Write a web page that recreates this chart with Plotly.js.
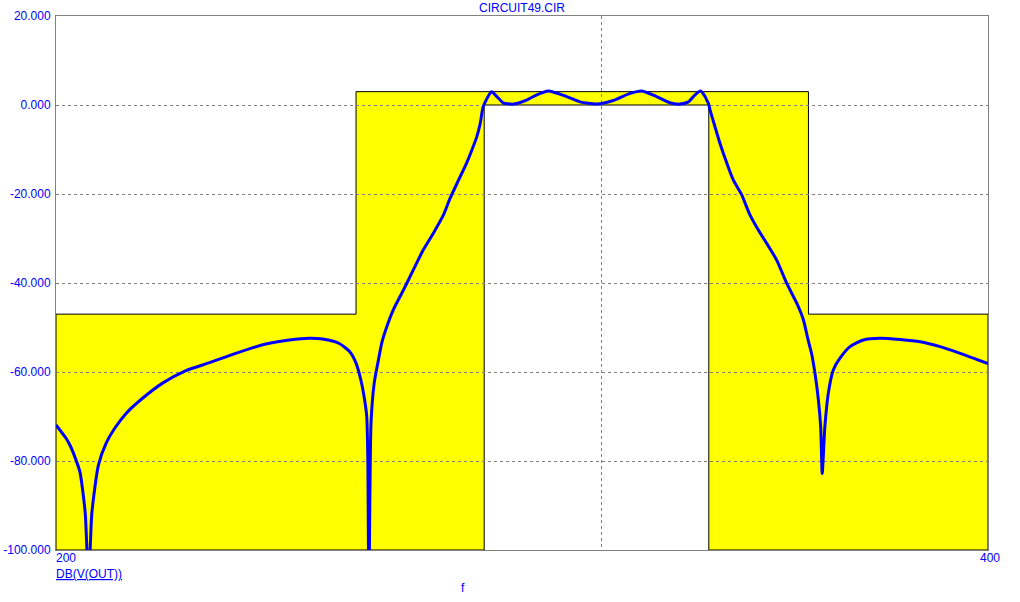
<!DOCTYPE html>
<html>
<head>
<meta charset="utf-8">
<script src="https://cdn.plot.ly/plotly-3.0.1.min.js"></script>
<style>html,body{margin:0;padding:0;background:#fff}#chart{width:1020px;height:602px}</style>
</head>
<body>
<div id="chart"></div>
<script>
// Frequency (Hz, log axis) and response DB(V(OUT))
const freq = [
  200, 201.5, 202.2, 203.0, 203.6, 204.4, 204.9, 205.4, 206.4, 207.6, 208.9, 210.7, 213.3, 216.5, 220.3, 224.2, 228.6, 233.8, 237.9, 241.5, 243.9, 246.9, 248.8, 250.0, 250.9, 251.5, 252.0, 252.2, 252.4, 252.8, 253.4,
  254.2, 254.8, 255.8, 257.0, 258.3, 259.6, 261.2, 262.8, 264.8, 266.8, 268.1, 269.8, 271.4, 272.5, 273.5, 274.2, 274.8,
  276.5, 277.6, 278.9, 281.0, 283.8, 286.0, 288.4, 292.4, 295.3, 299.0, 302.7, 306.5, 309.2, 312.6, 315.7, 318.1, 320.1, 321.7, 323.0, 324.1, 324.5, 324.9,
  325.3, 326.5, 327.7, 329.4, 331.0, 333.0, 335.1, 337.2, 339.3, 341.8, 344.4, 347.0, 348.7, 349.8, 350.8, 351.7, 352.6, 353.2, 353.6, 354.3, 355.2, 356.5, 358.3, 361.0, 364.6, 369.1, 374.7, 380.3, 386.0, 391.8, 400];
const dbOut = [
  -71.9, -74.9, -76.8, -79.8, -82.5, -91.8, -108, -91.8, -81.0, -76.0, -72.7, -69.3, -65.9, -62.5, -59.7, -57.9, -55.8, -53.7, -52.8, -52.4, -52.6, -53.6, -55.4, -58.0, -61.8, -65.5, -70.0, -79.8, -110, -71.5, -62.5,
  -57.3, -53.6, -49.8, -46.1, -43.1, -40.1, -36.3, -32.6, -28.8, -24.7, -21.0, -16.9, -13.1, -10.1, -7.1, -4.1, -0.4,
  3.0, 1.9, 0.5, 0.2, 1.1, 2.3, 3.15, 1.9, 0.7, 0.2, 1.0, 2.6, 3.15, 1.9, 0.5, 0.2, 0.7, 2.3, 3.15, 1.9, 1.1, 0.4,
  -1.1, -4.9, -8.6, -13.1, -16.9, -20.1, -24.7, -28.1, -31.1, -34.8, -40.1, -44.6, -48.3, -52.4, -55.8, -60.3, -66.3, -72.3, -82.8, -72.3, -64.8, -59.6, -56.9, -54.3, -52.8, -52.4, -52.7, -53.2, -54.3, -55.8, -58.1];

// Specification mask (yellow region)
const maskEdges = [200, 250, 275, 325, 350, 400];
const maskStopLevel = -47;
const maskPassTop = 3;
const maskPassFloor = 0;
const maskBottom = -100;

// Axis ticks
const yTickVals = [20, 0, -20, -40, -60, -80, -100];
const yTickText = ['20.000', '0.000', '-20.000', '-40.000', '-60.000', '-80.000', '-100.000'];
const xGridVals = [300];
const xTickLabels = ['200', '400'];

const e = maskEdges;
const poly = [
  [e[0], maskBottom], [e[0], maskStopLevel], [e[1], maskStopLevel], [e[1], maskPassTop],
  [e[4], maskPassTop], [e[4], maskStopLevel], [e[5], maskStopLevel], [e[5], maskBottom],
  [e[3], maskBottom], [e[3], maskPassFloor], [e[2], maskPassFloor], [e[2], maskBottom]
];
const path = 'M ' + poly.map(p => p[0] + ',' + p[1]).join(' L ') + ' Z';

const blue = '#0000ff';
const fnt = {family: 'Liberation Sans, Arial, sans-serif', size: 12, color: blue};

const trace = {
  x: freq, y: dbOut, type: 'scatter', mode: 'lines',
  line: {color: blue, width: 3, shape: 'spline', smoothing: 0.6},
  hoverinfo: 'x+y'
};

const layout = {
  width: 1020, height: 602,
  margin: {l: 56, r: 32, t: 16, b: 52},
  paper_bgcolor: '#ffffff', plot_bgcolor: '#ffffff',
  showlegend: false,
  font: fnt,
  title: {text: 'CIRCUIT49.CIR', font: fnt, xref: 'paper', x: 0.5, xanchor: 'center', yref: 'container', y: 1 - 8 / 602, yanchor: 'middle'},
  xaxis: {
    type: 'log', range: [Math.log10(200), Math.log10(400)],
    tickvals: xGridVals, showticklabels: false, ticks: '',
    showgrid: true, gridcolor: '#808080', gridwidth: 1, griddash: '3px,3px',
    showline: true, linecolor: '#808080', linewidth: 1, mirror: true, zeroline: false
  },
  yaxis: {
    range: [-100, 20], tickvals: yTickVals, ticktext: yTickText, ticks: '',
    tickfont: fnt, ticklabelstandoff: 2,
    showgrid: true, gridcolor: '#808080', gridwidth: 1, griddash: '3px,3px',
    showline: true, linecolor: '#808080', linewidth: 1, mirror: true, zeroline: false
  },
  shapes: [{
    type: 'path', xref: 'x', yref: 'y', path: path, layer: 'below',
    fillcolor: '#ffff00', line: {color: '#000000', width: 1}
  }],
  annotations: [
    {text: xTickLabels[0], xref: 'paper', yref: 'paper', x: 0.0, y: -0.015, xanchor: 'left', yanchor: 'middle', xshift: -2, showarrow: false, font: fnt},
    {text: xTickLabels[1], xref: 'paper', yref: 'paper', x: 1.002, y: -0.015, xanchor: 'center', yanchor: 'middle', showarrow: false, font: fnt},
    {text: '<u>DB(V(OUT))</u>', xref: 'paper', yref: 'paper', x: 0.0, y: -0.045, xanchor: 'left', yanchor: 'middle', xshift: -2, showarrow: false, font: fnt},
    {text: 'f', xref: 'paper', yref: 'paper', x: 0.4367, y: -0.0712, xanchor: 'center', yanchor: 'middle', showarrow: false, font: fnt}
  ]
};

Plotly.newPlot('chart', [trace], layout, {displayModeBar: false, staticPlot: true});
</script>
</body>
</html>
